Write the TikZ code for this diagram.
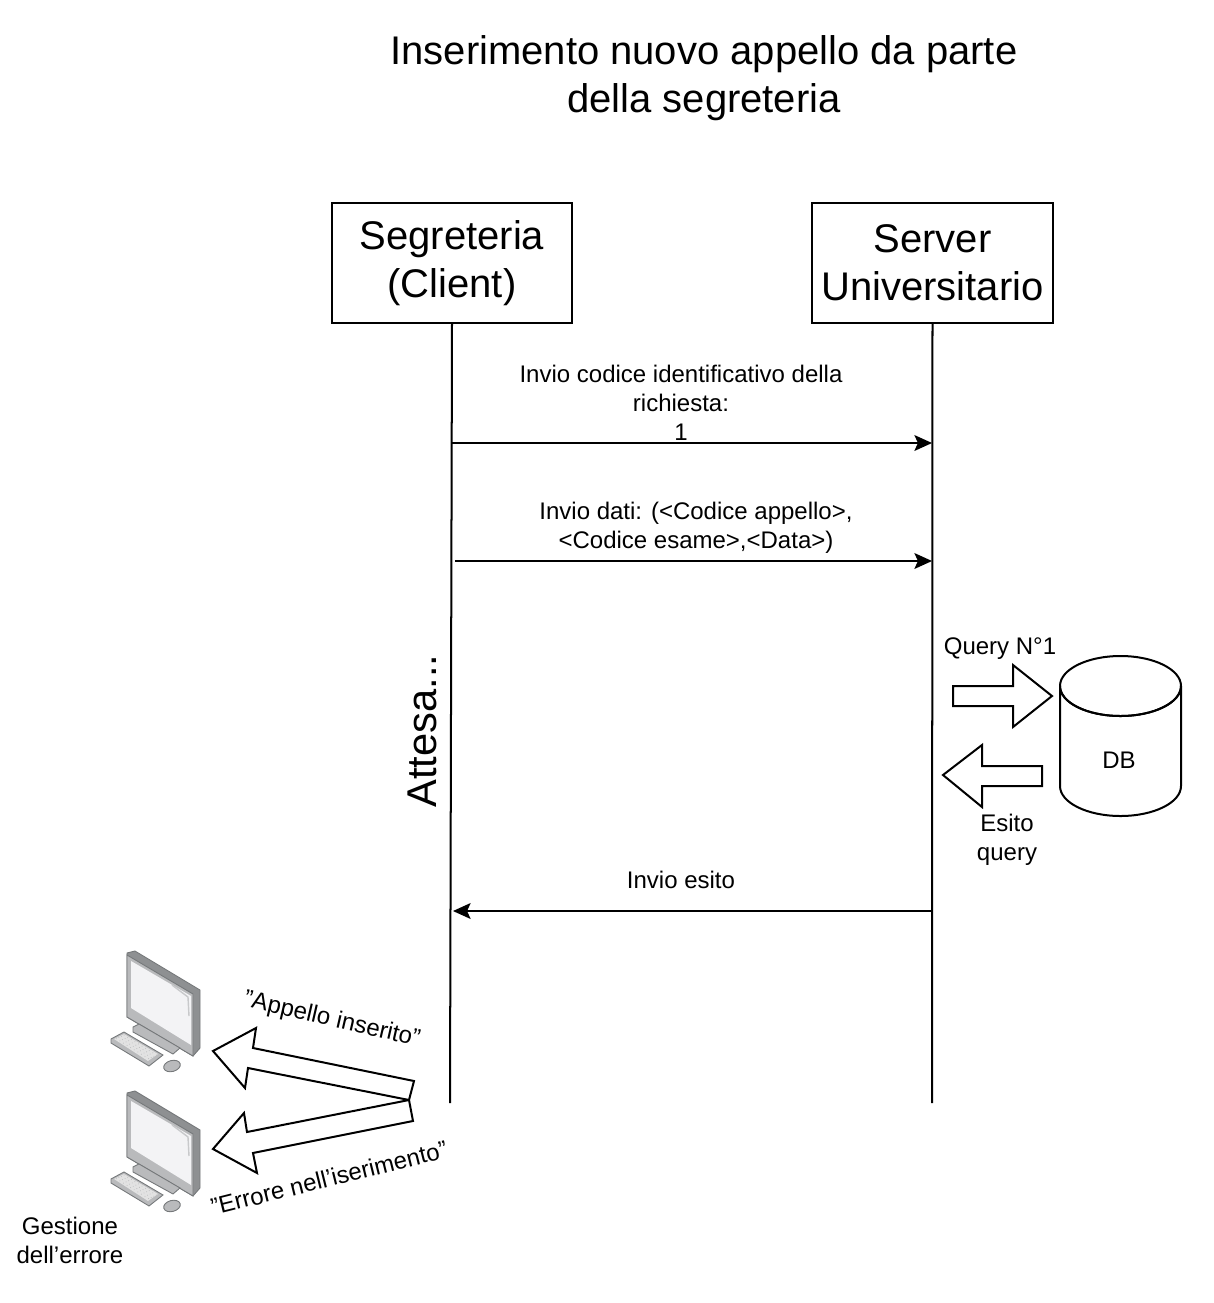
\documentclass[tikz,border=0pt]{standalone}
\usepackage{fontspec}
\setmainfont{Liberation Sans}
\usetikzlibrary{arrows.meta}
\definecolor{pcframe}{HTML}{B9BABC}
\definecolor{pcside}{HTML}{8E9092}
\definecolor{pcbezel}{HTML}{C8C9CB}
\definecolor{pcscreen}{HTML}{F3F3F5}
\definecolor{pcline}{HTML}{75787A}
\definecolor{pckeys}{HTML}{E2E2E2}
\tikzset{
    small/.style={font=\fontsize{13.66}{16.4}\selectfont,align=center},
    big/.style={font=\fontsize{22.76}{27.3}\selectfont,align=center},
    actor/.style={draw,line width=1.14pt,minimum width=4.82cm,minimum height=2.4cm,inner sep=0pt,big},
    msg/.style={line width=1.14pt,-{Stealth[length=10pt,width=9pt,inset=2pt]}},
    life/.style={line width=1.14pt},
    block/.style={draw,line width=1.14pt,fill=white,line join=miter},
    pcpart/.style={draw=pcline,line width=0.5pt},
    pics/computer/.style={code={
        % monitor
        \filldraw[pcpart,fill=pcside] (127,953) -- (135,951) -- (200,990) -- (200,1048) -- (193,1056) -- (127,1017) -- cycle;
        \filldraw[pcpart,fill=pcframe] (127,955) -- (193,994) -- (193,1056) -- (127,1017) -- cycle;
        \fill[pcscreen] (131,961) -- (191,996) -- (191,1045) -- (131,1008) -- cycle;
        \draw[pcbezel,line width=0.8pt] (172,985) -- (188,997) -- (189,1016);
        % stand
        \filldraw[pcpart,fill=pcframe] (133,1027) -- (139,1024) -- (180,1048) -- (173,1054) -- (133,1032) -- cycle;
        % keyboard
        \filldraw[pcpart,fill=pcframe] (111,1039) -- (124,1032) -- (163,1055) -- (149,1066) -- (111,1043) -- cycle;
        \fill[pckeys] (114,1039) -- (124,1034) -- (158,1054) -- (148,1061) -- cycle;
        \foreach \k in {0,1,2,3}
            \draw[pcframe,line width=0.4pt,dotted] (116+2.6*\k,1038.5-1.2*\k) -- (150+2.6*\k,1059.5-1.2*\k);
        % mouse
        \filldraw[pcpart,fill=pcframe] (172,1066) ellipse [x radius=8.5,y radius=5.5,rotate=15];
    }},
}
\begin{document}
\begin{tikzpicture}[x=0.02cm,y=-0.02cm]
    \useasboundingbox (0,0) rectangle (1214,1303);

    \node[big] (title) at (704,78) {Inserimento nuovo appello da parte\\della segreteria};

    \node[actor] (client) at (452,263) {\raisebox{-4.5\dimexpr0.02cm}{\parbox{4.8cm}{\centering Segreteria\\(Client)}}};
    \node[actor] (server) at (932.5,263) {\raisebox{-2\dimexpr0.02cm}{\parbox{4.8cm}{\centering Server\\Universitario}}};
    \coordinate (clientend) at (450,1103);
    \coordinate (serverend) at (932,1103);
    \draw[life] (client.south) -- (clientend);
    \draw[life] (server.south) -- (serverend);

    \coordinate (a1) at (452,443);
    \coordinate (b1) at (932,443);
    \coordinate (a2) at (455,561);
    \coordinate (b2) at (932,561);
    \coordinate (a3) at (453,911);
    \coordinate (b3) at (932,911);
    \draw[msg] (a1) -- (b1);
    \draw[msg] (a2) -- (b2);
    \draw[msg] (b3) -- (a3);

    \node[small] (req) at (681,403) {Invio codice identificativo della\\richiesta:\\1};
    \node[small] (dati) at (696,527.5) {Invio dati: (<Codice appello>,\\<Codice esame>,<Data>)};
    \node[small] (esito) at (681,880) {Invio esito};
    \node[big,font=\fontsize{23.7}{28}\selectfont,rotate=90] (attesa) at (422,731) {Attesa...};

    % database
    \draw[line width=1.14pt,fill=white] (1060,686) -- (1060,786) arc [start angle=180,end angle=0,x radius=60.5,y radius=30] -- (1181,686) arc [start angle=0,end angle=360,x radius=60.5,y radius=30];
    \draw[line width=1.14pt] (1060,686) arc [start angle=180,end angle=0,x radius=60.5,y radius=30];
    \node[small] (db) at (1119,760) {DB};

    \draw[block] (953,686) -- (1013,686) -- (1013,665) -- (1052,696) -- (1013,727) -- (1013,706) -- (953,706) -- cycle;
    \draw[block] (1042,766) -- (982,766) -- (982,745) -- (943,775) -- (982,807) -- (982,786) -- (1042,786) -- cycle;
    \node[small] (query) at (1000,649) {Query N°1};
    \node[small] (esitoq) at (1007,839.5) {Esito\\query};

    % client screens
    \pic {computer};
    \pic[yshift=-2.8cm] {computer};

    \draw[block] (414,1081) -- (253,1048) -- (256,1028) -- (213,1051) -- (245,1088) -- (248,1068) -- (409,1100) -- cycle;
    \draw[block] (409,1100) -- (247,1132) -- (244,1113) -- (213,1149) -- (257,1173) -- (253,1153) -- (413,1121) -- cycle;
    \node[small,rotate=-13] (ok) at (332,1020) {\symbol{34}Appello inserito\symbol{34}};
    \node[small,rotate=14] (ko) at (329,1178) {\symbol{34}Errore nell\symbol{39}iserimento\symbol{34}};
    \node[small] (gest) at (70,1240.5) {Gestione\\dell\symbol{39}errore};
\end{tikzpicture}
\end{document}
